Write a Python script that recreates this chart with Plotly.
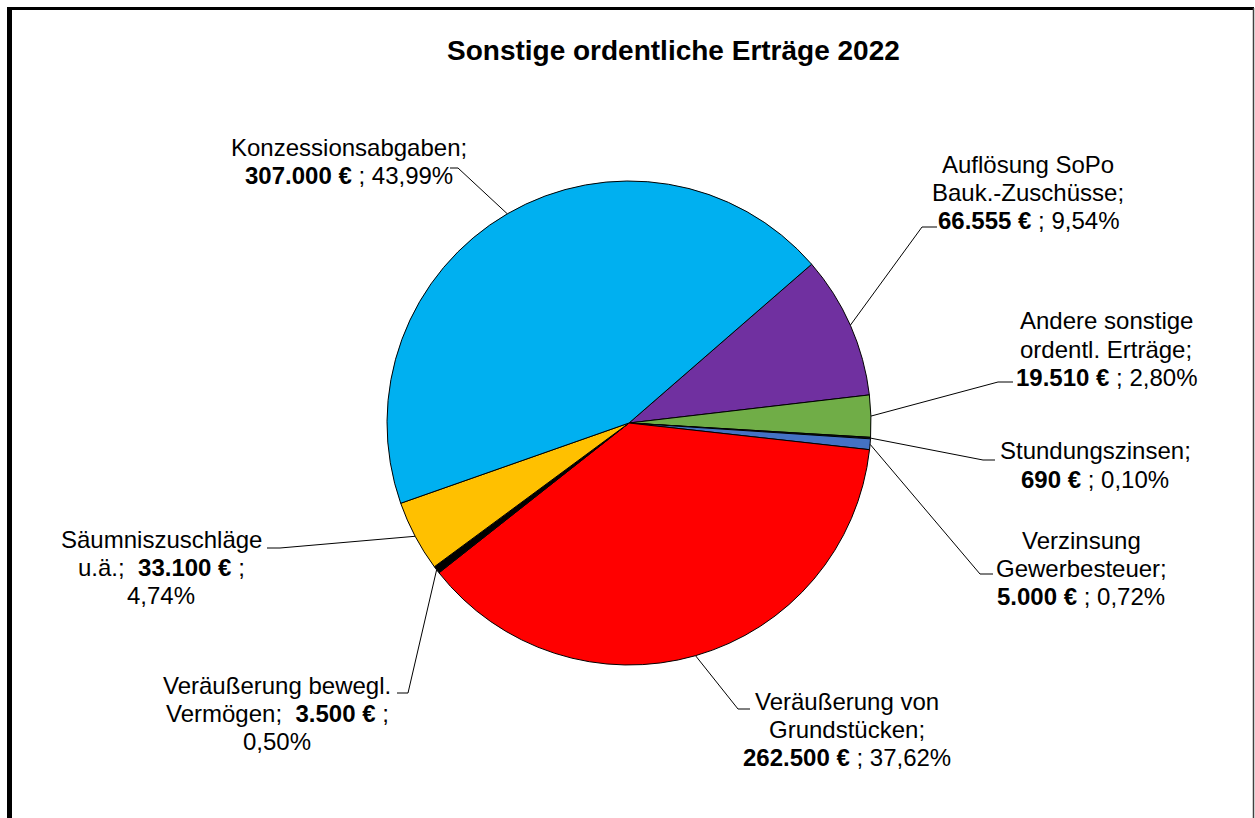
import math
import plotly.graph_objects as go

W, H = 1255, 818

# --- data -----------------------------------------------------------------
categories = [
    "Auflösung SoPo Bauk.-Zuschüsse",
    "Andere sonstige ordentl. Erträge",
    "Stundungszinsen",
    "Verzinsung Gewerbesteuer",
    "Veräußerung von Grundstücken",
    "Veräußerung bewegl. Vermögen",
    "Säumniszuschläge u.ä.",
    "Konzessionsabgaben",
]
values = [66555, 19510, 690, 5000, 262500, 3500, 33100, 307000]

# label text per slice, one entry per printed line ({v} = amount, {p} = share)
label_lines = [
    ["Auflösung SoPo", "Bauk.-Zuschüsse;", "{v} ; {p}"],
    ["Andere sonstige", "ordentl. Erträge;", "{v} ; {p}"],
    ["Stundungszinsen;", "{v} ; {p}"],
    ["Verzinsung", "Gewerbesteuer;", "{v} ; {p}"],
    ["Veräußerung von", "Grundstücken;", "{v} ; {p}"],
    ["Veräußerung bewegl.", "Vermögen;  {v} ;", "{p}"],
    ["Säumniszuschläge", "u.ä.;  {v} ;", "{p}"],
    ["Konzessionsabgaben;", "{v} ; {p}"],
]
title_text = "Sonstige ordentliche Erträge 2022"

# --- styling / layout ------------------------------------------------------
colors = ["#7030A0", "#70AD47", "#1C1C1C", "#4472C4",
          "#FF0000", "#000000", "#FFC000", "#00B0F0"]
FONT = "Liberation Sans, Arial, sans-serif"
FS = 24
LINE_H = 28.3

# pie geometry in pixels
CX, CY, R = 629, 423, 242
ROTATION = 49

# label block placement: centre x, centre y of first line
label_pos = [
    (1028, 164), (1106, 321), (1095, 451), (1081, 540),
    (846.5, 701), (277, 685), (161, 539), (349, 147),
]
# leader line start on the label side: (x at label, x at knee, y)
leader_start = [
    (937, 922, 227), (1013, 998, 382), (995, 983, 460), (993, 980, 574),
    (750, 738, 709), (397, 408, 693), (267, 280, 548), (450, 458, 168),
]


def px(x):
    return x / W


def py(y):
    return 1 - y / H


def fmt_eur(v):
    return f"{v:,.0f}".replace(",", ".") + " €"


def fmt_pct(share):
    return f"{share * 100:.2f}".replace(".", ",") + "%"


total = sum(values)

fig = go.Figure()
fig.add_trace(go.Pie(
    labels=categories,
    values=values,
    sort=False,
    direction="clockwise",
    rotation=ROTATION,
    marker=dict(colors=colors, line=dict(color="#000000", width=1)),
    textinfo="none",
    hoverinfo="label+value+percent",
    domain=dict(x=[px(CX - R), px(CX + R)], y=[py(CY + R), py(CY - R)]),
))

annotations = []
shapes = []

cum = 0.0
for i, v in enumerate(values):
    share = v / total
    # leader line to the middle of the slice's outer edge
    theta = math.radians(ROTATION + 360 * (cum + share / 2))
    ex = CX + R * math.sin(theta)
    ey = CY - R * math.cos(theta)
    cum += share
    sx, kx, sy = leader_start[i]
    shapes.append(dict(
        type="path", xref="paper", yref="paper",
        path=f"M {px(sx)} {py(sy)} L {px(kx)} {py(sy)} L {px(ex)} {py(ey)}",
        line=dict(color="#000000", width=1),
    ))
    # label text
    lx, ly = label_pos[i]
    for j, line in enumerate(label_lines[i]):
        txt = line.replace("{v}", f"<b>{fmt_eur(v)}</b>").replace("{p}", fmt_pct(share))
        annotations.append(dict(
            x=px(lx), y=py(ly + j * LINE_H), xref="paper", yref="paper",
            text=txt, showarrow=False, xanchor="center", yanchor="middle",
            font=dict(family=FONT, size=FS, color="#000000"),
        ))

annotations.append(dict(
    x=px(673.5), y=py(50), xref="paper", yref="paper",
    text=f"<b>{title_text}</b>", showarrow=False,
    xanchor="center", yanchor="middle",
    font=dict(family=FONT, size=28, color="#000000"),
))

# chart frame
shapes += [
    dict(type="line", xref="paper", yref="paper",
         x0=px(7), x1=px(1254), y0=py(8.5), y1=py(8.5),
         line=dict(color="#000000", width=3)),
    dict(type="line", xref="paper", yref="paper",
         x0=px(9.5), x1=px(9.5), y0=py(7), y1=py(H + 10),
         line=dict(color="#000000", width=5)),
    dict(type="line", xref="paper", yref="paper",
         x0=px(1253.5), x1=px(1253.5), y0=py(8), y1=py(H + 10),
         line=dict(color="#404040", width=1.5)),
]

fig.update_layout(
    width=W, height=H,
    margin=dict(l=0, r=0, t=0, b=0),
    paper_bgcolor="#FFFFFF",
    plot_bgcolor="#FFFFFF",
    showlegend=False,
    annotations=annotations,
    shapes=shapes,
)

fig.write_html("out.html")
